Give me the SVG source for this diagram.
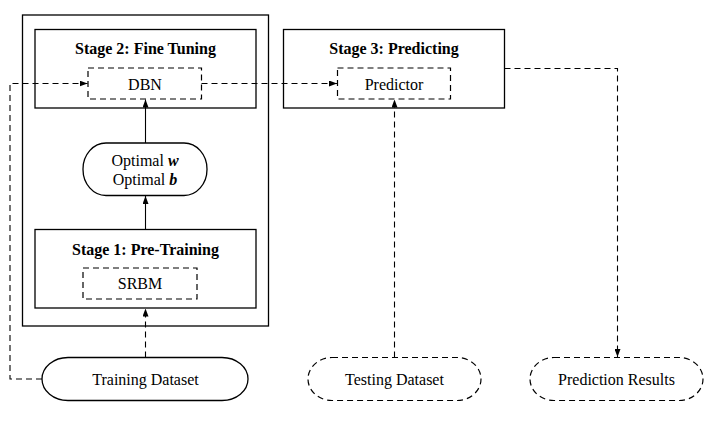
<svg xmlns="http://www.w3.org/2000/svg" width="717" height="427" viewBox="0 0 717 427">
<style>
.box{fill:none;stroke:#000;stroke-width:1.3}
.dbox{fill:none;stroke:#000;stroke-width:1.2;stroke-dasharray:6 4}
.ln{fill:none;stroke:#000;stroke-width:1.1}
.dln{fill:none;stroke:#000;stroke-width:1.1;stroke-dasharray:6 4}
text{font-family:"Liberation Serif","Times New Roman",serif;font-size:16px;fill:#000;text-anchor:middle}
.t{font-weight:bold}
</style>
<defs>
<marker id="ah" viewBox="0 0 8 6" refX="8" refY="3" markerWidth="8" markerHeight="6" markerUnits="userSpaceOnUse" orient="auto">
<path d="M0,0 L8,3 L0,6 Z" fill="#000"/>
</marker>
</defs>
<rect width="717" height="427" fill="#fff"/>
<g id="outer"><rect class="box" x="22.5" y="15" width="246" height="311"/></g>
<g id="stage2">
<rect class="box" x="35" y="29.5" width="221" height="78.5"/>
<text class="t" x="145.5" y="54">Stage 2: Fine Tuning</text>
</g>
<g id="dbn">
<rect class="dbox" x="88" y="68" width="113.5" height="31"/>
<text x="145" y="89.5">DBN</text>
</g>
<g id="optimal">
<rect class="box" x="83" y="143" width="124" height="52.5" rx="23" ry="26"/>
<text x="145" y="166">Optimal <tspan font-weight="bold" font-style="italic">w</tspan></text>
<text x="145" y="185">Optimal <tspan font-weight="bold" font-style="italic">b</tspan></text>
</g>
<g id="stage1">
<rect class="box" x="35" y="229.5" width="221" height="78.5"/>
<text class="t" x="145.5" y="255">Stage 1: Pre-Training</text>
</g>
<g id="srbm">
<rect class="dbox" x="83" y="268" width="114" height="31"/>
<text x="140" y="289">SRBM</text>
</g>
<g id="stage3">
<rect class="box" x="283.5" y="29.5" width="221" height="78.5"/>
<text class="t" x="394" y="54">Stage 3: Predicting</text>
</g>
<g id="predictor">
<rect class="dbox" x="337.5" y="68" width="113" height="31"/>
<text x="394" y="89.5">Predictor</text>
</g>
<g id="training">
<rect class="box" x="42" y="357.5" width="206" height="43" rx="26" ry="21.5"/>
<text x="145.5" y="385">Training Dataset</text>
</g>
<g id="testing">
<rect class="dbox" x="308" y="357.5" width="173" height="43" rx="24" ry="21.5"/>
<text x="394.5" y="385">Testing Dataset</text>
</g>
<g id="results">
<rect class="dbox" x="530" y="357.5" width="173" height="43" rx="24" ry="21.5"/>
<text x="616.5" y="385">Prediction Results</text>
</g>
<g id="connectors">
<line class="ln" x1="145.5" y1="143" x2="145.5" y2="99.5" marker-end="url(#ah)"/>
<line class="ln" x1="145.5" y1="229.5" x2="145.5" y2="196" marker-end="url(#ah)"/>
<line class="dln" x1="145.5" y1="357.5" x2="145.5" y2="308.5" marker-end="url(#ah)"/>
<polyline class="dln" points="42,379 10,379 10,83.5 87.5,83.5" marker-end="url(#ah)"/>
<line class="dln" x1="201.5" y1="83.5" x2="337" y2="83.5" marker-end="url(#ah)"/>
<line class="dln" x1="394.5" y1="357.5" x2="394.5" y2="99.5" marker-end="url(#ah)"/>
<polyline class="dln" points="504.5,68.5 617.5,68.5 617.5,357" marker-end="url(#ah)"/>
</g>
</svg>
